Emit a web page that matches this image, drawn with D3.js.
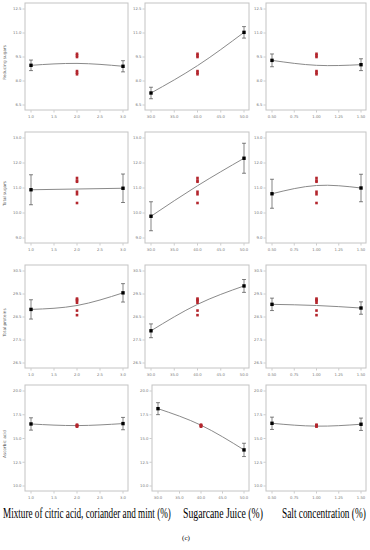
<!DOCTYPE html>
<html>
<head>
<meta charset="utf-8">
<script src="https://cdn.jsdelivr.net/npm/d3@7"></script>
<style>
  body { margin: 0; background: #fff; }
  svg { display: block; }
</style>
</head>
<body>
<div id="chart"></div>
<script>
// Responses (rows) and factors (columns)
const responses = ["Reducing sugars", "Total sugars", "Total proteins", "Ascorbic acid"];
const factors = ["Mixture of citric acid, coriander and mint (%)", "Sugarcane Juice (%)", "Salt concentration (%)"];

// Tick labels
const xTickLabels = [
    ["1.0", "1.5", "2.0", "2.5", "3.0"],
    ["30.0", "35.0", "40.0", "45.0", "50.0"],
    ["0.50", "0.75", "1.00", "1.25", "1.50"]
];
const yTickValues = [
    [6.5, 8, 9.5, 11, 12.5],
    [9, 10, 11, 12, 13],
    [26.5, 27.5, 28.5, 29.5, 30.5],
    [10, 12.5, 15, 17.5, 20]
];
const yTickLabels = [
    ["6.5", "8.0", "9.5", "11.0", "12.5"],
    ["9.0", "10.0", "11.0", "12.0", "13.0"],
    ["26.5", "27.5", "28.5", "29.5", "30.5"],
    ["10.0", "12.5", "15.0", "17.5", "20.0"]
];

// Fitted values at low / centre / high level, one triple per factor
const fitReducing = [[8.98, 9.10, 8.92], [7.25, 8.96, 11.04], [9.29, 8.98, 9.02]];
const fitTotal = [[10.93, 10.96, 10.99], [9.87, 11.09, 12.19], [10.77, 11.10, 11.00]];
const fitProteins = [[28.83, 29.00, 29.55], [27.90, 29.05, 29.85], [29.05, 29.00, 28.89]];
const fitAscorbic = [[16.53, 16.36, 16.57], [18.14, 16.40, 13.80], [16.60, 16.30, 16.50]];
const fits = [fitReducing, fitTotal, fitProteins, fitAscorbic];

// Error bar half widths at low / high level
const errReducing = [[0.33, 0.35], [0.36, 0.36], [0.40, 0.37]];
const errTotal = [[0.60, 0.57], [0.58, 0.60], [0.58, 0.55]];
const errProteins = [[0.42, 0.40], [0.30, 0.28], [0.27, 0.27]];
const errAscorbic = [[0.65, 0.65], [0.63, 0.70], [0.65, 0.65]];
const errs = [errReducing, errTotal, errProteins, errAscorbic];

// Centre point runs (red)
const centreReducing = [9.70, 9.60, 9.50, 8.62, 8.52, 8.42];
const centreTotal = [11.40, 11.30, 11.25, 10.85, 10.75, 10.40];
const centreProteins = [29.30, 29.25, 29.20, 29.12, 28.78, 28.58];
const centreAscorbic = [16.45, 16.40, 16.35, 16.30, 16.25];
const centres = [centreReducing, centreTotal, centreProteins, centreAscorbic];

// Layout of the panel boxes
const colBox = [[25, 128], [145, 249], [266, 366]];
const rowBox = [[3, 110], [132, 243], [265, 368], [385, 491]];

const svg = d3.select("#chart").append("svg")
    .attr("width", 370)
    .attr("height", 550);

responses.forEach((resp, r) => {
    factors.forEach((fac, c) => {
        let [x0, x1] = colBox[c];
        let [y0, y1] = rowBox[r];
        if (r === 3 && c === 1) x0 = 152;

        const x = d3.scaleLinear().domain([0, 4]).range([x0 + 6, x1 - 5]);
        const yt = yTickValues[r];
        const y = d3.scaleLinear().domain([yt[0], yt[yt.length - 1]]).range([y1 - 5, y0 + 6]);

        const g = svg.append("g");

        g.append("rect")
            .attr("x", x0).attr("y", y0)
            .attr("width", x1 - x0).attr("height", y1 - y0)
            .attr("fill", "#fff")
            .attr("stroke", "#c4c4c4")
            .attr("stroke-width", 1);

        // y axis ticks
        const yAxis = g.append("g");
        yt.forEach((v, i) => {
            yAxis.append("line")
                .attr("x1", x0 - 2.5).attr("x2", x0 - 0.5)
                .attr("y1", y(v)).attr("y2", y(v))
                .attr("stroke", "#999").attr("stroke-width", 0.5);
            yAxis.append("text")
                .attr("x", x0 - 3.5).attr("y", y(v) + 1.4)
                .attr("text-anchor", "end")
                .attr("font-family", "DejaVu Sans")
                .attr("font-size", 3.8)
                .attr("fill", "#777")
                .text(yTickLabels[r][i]);
        });

        // x axis ticks
        xTickLabels[c].forEach((lab, i) => {
            g.append("line")
                .attr("x1", x(i)).attr("x2", x(i))
                .attr("y1", y1 + 0.5).attr("y2", y1 + 2.5)
                .attr("stroke", "#999").attr("stroke-width", 0.5);
            g.append("text")
                .attr("x", x(i)).attr("y", y1 + 7.5)
                .attr("text-anchor", "middle")
                .attr("font-family", "DejaVu Sans")
                .attr("font-size", 3.8)
                .attr("fill", "#777")
                .text(lab);
        });

        // y title for the first column
        if (c === 0) {
            g.append("text")
                .attr("transform", `translate(6,${(y0 + y1) / 2 + 6}) rotate(-90)`)
                .attr("text-anchor", "middle")
                .attr("font-family", "DejaVu Sans")
                .attr("font-size", 4.2)
                .attr("fill", "#555")
                .text(resp);
        }

        const fit = fits[r][c];
        const pts = fit.map((v, i) => [x(i * 2), y(v)]);

        g.append("path")
            .attr("d", d3.line().curve(d3.curveNatural)(pts))
            .attr("fill", "none")
            .attr("stroke", "#8a8a8a")
            .attr("stroke-width", 1);

        // centre points
        g.selectAll("rect.centre")
            .data(centres[r])
            .enter()
            .append("rect")
            .attr("class", "centre")
            .attr("x", x(2) - 1.3)
            .attr("y", d => y(d) - 1.3)
            .attr("width", 2.6).attr("height", 2.6)
            .attr("fill", "#b3262d");

        // low / high design points with error bars
        [0, 2].forEach((k, j) => {
            const px = x(k * 2);
            const v = fit[k];
            const e = errs[r][c][j];
            const eg = g.append("g").attr("stroke", "#333").attr("stroke-width", 0.6);
            eg.append("line").attr("x1", px).attr("x2", px).attr("y1", y(v + e)).attr("y2", y(v - e));
            eg.append("line").attr("x1", px - 2).attr("x2", px + 2).attr("y1", y(v + e)).attr("y2", y(v + e));
            eg.append("line").attr("x1", px - 2).attr("x2", px + 2).attr("y1", y(v - e)).attr("y2", y(v - e));
            g.append("rect")
                .attr("x", px - 1.7).attr("y", y(v) - 1.7)
                .attr("width", 3.4).attr("height", 3.4)
                .attr("fill", "#000");
        });
    });
});

// factor titles underneath, squeezed horizontally like the original
const titlePos = [[3, 168], [183, 80], [282, 84]];
factors.forEach((f, c) => {
    const t = svg.append("text")
        .attr("x", 0)
        .attr("y", 0)
        .attr("font-family", "Liberation Serif")
        .attr("font-size", 14)
        .attr("fill", "#000")
        .text(f);
    const w = t.node().getComputedTextLength();
    t.attr("transform", `translate(${titlePos[c][0]},518) scale(${titlePos[c][1] / w},1)`);
});

svg.append("text")
    .attr("x", 186)
    .attr("y", 540)
    .attr("text-anchor", "middle")
    .attr("font-family", "Liberation Serif")
    .attr("font-size", 7)
    .attr("fill", "#000")
    .text("(c)");
</script>
</body>
</html>
